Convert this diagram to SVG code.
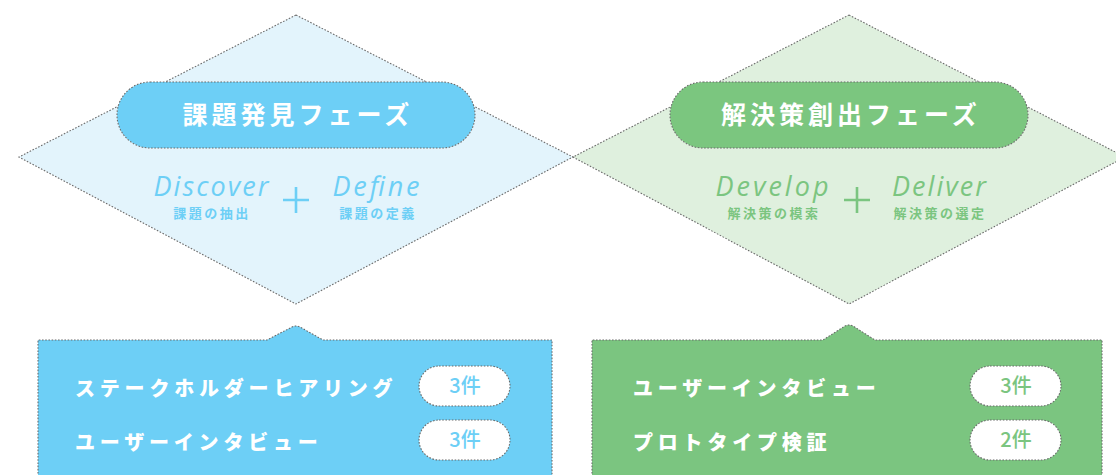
<svg xmlns="http://www.w3.org/2000/svg" width="1116" height="475" viewBox="0 0 1116 475">
  <style>
    .dot { stroke: #6b6b6b; stroke-width: 1.1; stroke-dasharray: 1.6 1.6; }
    .phase { font-family: "Noto Sans CJK JP", sans-serif; font-weight: 700; font-size: 25px; fill: #ffffff; letter-spacing: 4px; text-anchor: middle; }
    .en { font-family: "Open Sans", "Liberation Sans", sans-serif; font-style: italic; font-weight: 500; font-size: 27px; text-anchor: middle; }
    .sub { font-family: "Noto Sans CJK JP", sans-serif; font-weight: 700; font-size: 13px; letter-spacing: 2.5px; text-anchor: middle; }
    .item { font-family: "Noto Sans CJK JP", sans-serif; font-weight: 900; font-size: 20px; fill: #ffffff; letter-spacing: 4.8px; }
    .count { font-family: "Noto Sans CJK JP", sans-serif; font-weight: 500; font-size: 20px; text-anchor: middle; }
    .blue { fill: #6dcff6; }
    .green { fill: #7bc580; }
  </style>

  <!-- Phase 1: problem discovery -->
  <g id="phase-discover">
    <polygon points="296,15 573,157 296,304 19,157" fill="#e3f4fc" class="dot"/>
    <rect x="117" y="82" width="358" height="66" rx="33" class="dot" fill="#6dcff6"/>
    <text x="298" y="124" class="phase">課題発見フェーズ</text>
    <text x="211" y="196" class="en blue" textLength="115">Discover</text>
    <text x="212" y="218" class="sub blue">課題の抽出</text>
    <path d="M283,200 H309 M296,187 V213" stroke="#6dcff6" stroke-width="2.6" fill="none"/>
    <text x="376" y="196" class="en blue" textLength="87">Define</text>
    <text x="378" y="218" class="sub blue">課題の定義</text>
  </g>

  <!-- Phase 2: solution creation -->
  <g id="phase-develop">
    <polygon points="849,15 1125,157 849,304 573,157" fill="#dff0de" class="dot"/>
    <rect x="670" y="82" width="358" height="66" rx="33" class="dot" fill="#7bc67f"/>
    <text x="851" y="124" class="phase">解決策創出フェーズ</text>
    <text x="772" y="196" class="en green" textLength="113">Develop</text>
    <text x="774" y="218" class="sub green">解決策の模索</text>
    <path d="M844,200 H870 M857,187 V213" stroke="#7bc580" stroke-width="2.6" fill="none"/>
    <text x="939" y="196" class="en green" textLength="94">Deliver</text>
    <text x="940" y="218" class="sub green">解決策の選定</text>
  </g>

  <!-- Phase 1 activities -->
  <g id="activities-discover">
    <path d="M38,480 V340 H267 L292,327 Q296,325 300,327 L323,340 H552 V480" fill="#6dcff6" class="dot"/>
    <text x="75" y="396" class="item">ステークホルダーヒアリング</text>
    <text x="75" y="450" class="item">ユーザーインタビュー</text>
    <rect x="419" y="366" width="91" height="40" rx="20" fill="#ffffff" class="dot"/>
    <text x="465" y="393" class="count blue">3件</text>
    <rect x="419" y="420" width="91" height="40" rx="20" fill="#ffffff" class="dot"/>
    <text x="465" y="447" class="count blue">3件</text>
  </g>

  <!-- Phase 2 activities -->
  <g id="activities-develop">
    <path d="M592,480 V340 H823 L845,326 Q849,324 853,326 L875,340 H1102 V480" fill="#7bc580" class="dot"/>
    <text x="633" y="396" class="item">ユーザーインタビュー</text>
    <text x="633" y="450" class="item" letter-spacing="6">プロトタイプ検証</text>
    <rect x="970" y="366" width="91" height="40" rx="20" fill="#ffffff" class="dot"/>
    <text x="1016" y="393" class="count green">3件</text>
    <rect x="970" y="420" width="91" height="40" rx="20" fill="#ffffff" class="dot"/>
    <text x="1016" y="447" class="count green">2件</text>
  </g>

  <g id="connectors"/>
</svg>
